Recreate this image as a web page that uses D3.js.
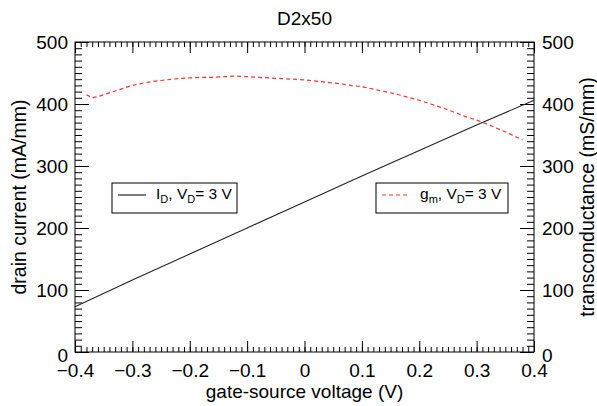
<!DOCTYPE html>
<html>
<head>
<meta charset="utf-8">
<script src="https://cdn.jsdelivr.net/npm/d3@7"></script>
<style>
  body { margin: 0; background: #fff; }
  svg { font-family: "Liberation Sans", Arial, sans-serif; }
  .axis path { display: none; }
  .axis line { stroke: #000; stroke-width: 1; }
  .axis text { font-size: 19px; fill: #000; }
</style>
</head>
<body>
<div id="chart"></div>
<script>
// chart data
const vgsId = [-0.4, -0.3, -0.2, -0.1, 0, 0.1, 0.2, 0.3, 0.4];
const drainCurrent = [73, 116, 158, 200, 242, 284, 325, 366, 406];

const vgsGm = [-0.38, -0.37, -0.36, -0.34, -0.32, -0.30, -0.28, -0.26, -0.24, -0.22,
  -0.20, -0.18, -0.16, -0.14, -0.12, -0.10, -0.08, -0.06, -0.04, -0.02,
  0.00, 0.02, 0.04, 0.06, 0.08, 0.10, 0.12, 0.14, 0.16, 0.18,
  0.20, 0.22, 0.24, 0.26, 0.28, 0.30, 0.32, 0.34, 0.36, 0.38];
const transconductance = [415, 410, 412, 418, 424, 430, 434, 437, 439, 441,
  442, 443, 443, 444, 445, 444, 443, 442, 441, 440,
  439, 437, 435, 433, 430, 428, 424, 420, 416, 411,
  406, 400, 394, 387, 380, 374, 367, 359, 351, 342];

const xTicks = [-0.4, -0.3, -0.2, -0.1, 0, 0.1, 0.2, 0.3, 0.4];
const yTicks = [0, 100, 200, 300, 400, 500];

const width = 597, height = 406;
const margin = {top: 42, right: 63, bottom: 54, left: 75};
const plotW = width - margin.left - margin.right;
const plotH = height - margin.top - margin.bottom;

const svg = d3.select("#chart").append("svg")
    .attr("width", width)
    .attr("height", height);

const g = svg.append("g")
    .attr("transform", "translate(" + margin.left + "," + margin.top + ")");

const x = d3.scaleLinear().domain([-0.4, 0.4]).range([0, plotW]);
const yL = d3.scaleLinear().domain([0, 500]).range([plotH, 0]);
const yR = d3.scaleLinear().domain([0, 500]).range([plotH, 0]);

const xMinor = d3.range(-40, 41).map(d => d / 100);
const yMinor = d3.range(0, 501, 10);
const fmtX = d => d === 0 ? "0" : d3.format(".1f")(d);

// bottom
g.append("g").attr("class", "axis")
    .attr("transform", "translate(0," + plotH + ")")
    .call(d3.axisBottom(x).tickValues(xMinor).tickSize(-5).tickFormat(""));
const bottomAx = g.append("g").attr("class", "axis")
    .attr("transform", "translate(0," + plotH + ")")
    .call(d3.axisBottom(x).tickValues(xTicks).tickSize(-11).tickFormat(fmtX));
bottomAx.selectAll(".tick text").attr("y", 12);
// top
g.append("g").attr("class", "axis")
    .call(d3.axisTop(x).tickValues(xMinor).tickSize(-5).tickFormat(""));
g.append("g").attr("class", "axis")
    .call(d3.axisTop(x).tickValues(xTicks).tickSize(-11).tickFormat(""));
// left
g.append("g").attr("class", "axis")
    .call(d3.axisLeft(yL).tickValues(yMinor).tickSize(-7).tickFormat(""));
const leftAx = g.append("g").attr("class", "axis")
    .call(d3.axisLeft(yL).tickValues(yTicks).tickSize(-14));
leftAx.selectAll(".tick text").attr("x", -7);
// right
g.append("g").attr("class", "axis")
    .attr("transform", "translate(" + plotW + ",0)")
    .call(d3.axisRight(yR).tickValues(yMinor).tickSize(-7).tickFormat(""));
const rightAx = g.append("g").attr("class", "axis")
    .attr("transform", "translate(" + plotW + ",0)")
    .call(d3.axisRight(yR).tickValues(yTicks).tickSize(-14));
rightAx.selectAll(".tick text").attr("x", 8);

// push the zero labels down a little like the original
leftAx.selectAll(".tick text").filter(d => d === 0).attr("dy", "0.5em");
rightAx.selectAll(".tick text").filter(d => d === 0).attr("dy", "0.5em");

// frame
g.append("rect")
    .attr("width", plotW).attr("height", plotH)
    .attr("fill", "none").attr("stroke", "#000").attr("stroke-width", 1);

// curves
const lineId = d3.line().x((d, i) => x(vgsId[i])).y(d => yL(d));
const lineGm = d3.line().x((d, i) => x(vgsGm[i])).y(d => yR(d));

g.append("path")
    .datum(drainCurrent)
    .attr("d", lineId)
    .attr("fill", "none")
    .attr("stroke", "#222")
    .attr("stroke-width", 1.1);

g.append("path")
    .datum(transconductance)
    .attr("d", lineGm)
    .attr("fill", "none")
    .attr("stroke", "#ff3333")
    .attr("stroke-width", 1.2)
    .attr("stroke-dasharray", "4,3");

// legends
function legend(lx, ly, w, dashed, main) {
    const lg = svg.append("g").attr("transform", "translate(" + lx + "," + ly + ")");
    lg.append("rect").attr("width", w).attr("height", 30)
        .attr("fill", "#fff").attr("stroke", "#000").attr("stroke-width", 1);
    lg.append("line").attr("x1", 6).attr("x2", 34).attr("y1", 12).attr("y2", 12)
        .attr("stroke", dashed ? "#ff3333" : "#222")
        .attr("stroke-width", 1.2)
        .attr("stroke-dasharray", dashed ? "4,3" : null);
    const t = lg.append("text").attr("x", 44).attr("y", 16)
        .attr("font-size", 15.5).attr("fill", "#000");
    t.append("tspan").text(main);
    t.append("tspan").attr("font-size", 11).attr("dy", 4).text(dashed ? "m" : "D");
    t.append("tspan").attr("dy", -4).text(", V");
    t.append("tspan").attr("font-size", 11).attr("dy", 4).text("D");
    t.append("tspan").attr("dy", -4).text("= 3 V");
}
legend(112, 183, 125, false, "I");
legend(376, 183, 132, true, "g");

// titles
svg.append("text")
    .attr("x", margin.left + plotW / 2).attr("y", 25)
    .attr("text-anchor", "middle").attr("font-size", 19)
    .text("D2x50");

svg.append("text")
    .attr("x", margin.left + plotW / 2).attr("y", 398)
    .attr("text-anchor", "middle").attr("font-size", 19)
    .text("gate-source voltage (V)");

svg.append("text")
    .attr("transform", "translate(26," + (margin.top + plotH / 2) + ") rotate(-90)")
    .attr("text-anchor", "middle").attr("font-size", 19.5)
    .text("drain current (mA/mm)");

svg.append("text")
    .attr("transform", "translate(594," + (margin.top + plotH / 2) + ") rotate(-90)")
    .attr("text-anchor", "middle").attr("font-size", 19.5)
    .text("transconductance (mS/mm)");
</script>
</body>
</html>
